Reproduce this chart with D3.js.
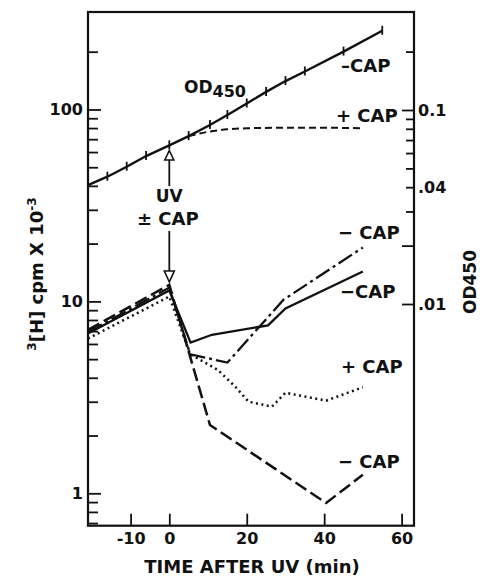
<!DOCTYPE html>
<html lang="en">
<head>
<meta charset="UTF-8">
<title>3H uptake and OD450 after UV</title>
<script src="https://cdn.jsdelivr.net/npm/d3@7/dist/d3.min.js"></script>
<style>
  body { margin: 0; background: #fff; }
  text { font-family: "DejaVu Sans", sans-serif; font-weight: bold; fill: #111; }
  .axis text { font-family: "DejaVu Sans", sans-serif; font-size: 16px; font-weight: bold; fill: #111; }
  .axis line { stroke: #111; stroke-width: 1.8; }
</style>
</head>
<body>
<svg width="480" height="578"></svg>
<script>
// OD450 of the -CAP culture (right axis), first point sits on the left frame
var odTime = [-21, -16, -11, -6, 0, 5, 10.5, 15, 20, 25, 30, 35, 45, 55];
var odMinusCap = [0.041, 0.0453, 0.051, 0.0579, 0.0657, 0.0734, 0.0837, 0.0942, 0.108, 0.124, 0.141, 0.158, 0.2, 0.256];
// OD450 with CAP added
var odPlusTime = [5, 10, 15, 20, 30, 40, 50];
var odPlusCap = [0.0734, 0.0772, 0.0795, 0.0805, 0.081, 0.081, 0.0805];

// 3H cpm x 10^-3 (left axis)
var solidTime = [-21, 0, 5.5, 11, 25.5, 30, 50];
var solidVal = [6.8, 11.4, 6.1, 6.7, 7.5, 9.2, 14.3];
var dashDotTime = [-21, 0, 5.4, 15, 29.5, 50];
var dashDotVal = [6.9, 11.8, 5.3, 4.8, 10.2, 19.1];
var dottedTime = [-21, 0, 5.4, 12.5, 17, 20.5, 26.5, 30, 40.5, 50];
var dottedVal = [6.4, 10.6, 5.3, 4.4, 3.6, 3.0, 2.83, 3.34, 3.04, 3.57];
var dashedTime = [-21, 0, 10.5, 40.5, 50];
var dashedVal = [7.1, 12.2, 2.27, 0.89, 1.25];

// ticks
var xTicks = [-10, 0, 20, 40, 60];
var leftLabelTicks = [1, 10, 100];
var leftMinorTicks = [0.7, 0.8, 0.9, 2, 3, 4, 5, 6, 7, 8, 9, 20, 30, 40, 50, 60, 70, 80, 90, 200];
var rightLabelTicks = [0.1, 0.04, 0.01];
var rightLabels = ['0.1', '.04', '.01'];
var rightShortTicks = [0.2, 0.09, 0.08, 0.07, 0.06, 0.05, 0.04, 0.03];
var rightLongTicks = [0.1, 0.02, 0.01];

var svg = d3.select('svg');
var pLeft = 88, pRight = 414, pTop = 12, pBottom = 525.7;

var x = d3.scaleLinear().domain([-21, 63.2]).range([pLeft, pRight]);
var yL = d3.scaleLog().domain([0.678, 322]).range([pBottom, pTop]);
var yR = d3.scaleLog().domain([0.00072, 0.32]).range([pBottom, pTop]);

function pairs(t, v) { return t.map(function (d, i) { return [d, v[i]]; }); }
function noDomain(g) { g.select('.domain').remove(); }

// frame
svg.append('rect')
    .attr('x', pLeft).attr('y', pTop)
    .attr('width', pRight - pLeft).attr('height', pBottom - pTop)
    .attr('fill', 'none').attr('stroke', '#111').attr('stroke-width', 2.2);

// left axis
svg.append('g').attr('class', 'axis').attr('transform', 'translate(' + pLeft + ',0)')
    .call(d3.axisLeft(yL).tickValues(leftMinorTicks).tickSizeInner(-10).tickSizeOuter(0).tickFormat(''))
    .call(noDomain);
svg.append('g').attr('class', 'axis').attr('transform', 'translate(' + pLeft + ',0)')
    .call(d3.axisLeft(yL).tickValues(leftLabelTicks).tickSizeInner(-13).tickSizeOuter(0).tickPadding(5)
        .tickFormat(function (d) { return String(d); }))
    .call(noDomain);

// right axis
svg.append('g').attr('class', 'axis').attr('transform', 'translate(' + pRight + ',0)')
    .call(d3.axisRight(yR).tickValues(rightShortTicks).tickSizeInner(-8).tickSizeOuter(0).tickFormat(''))
    .call(noDomain);
svg.append('g').attr('class', 'axis').attr('transform', 'translate(' + pRight + ',0)')
    .call(d3.axisRight(yR).tickValues(rightLongTicks).tickSizeInner(-12).tickSizeOuter(0).tickFormat(''))
    .call(noDomain);
svg.append('g').attr('class', 'axis').attr('transform', 'translate(' + pRight + ',0)')
    .call(d3.axisRight(yR).tickValues(rightLabelTicks).tickSize(0).tickPadding(4)
        .tickFormat(function (d, i) { return rightLabels[i]; }))
    .call(noDomain);

// bottom axis
svg.append('g').attr('class', 'axis').attr('transform', 'translate(0,' + pBottom + ')')
    .call(d3.axisBottom(x).tickValues(xTicks).tickSizeInner(-12).tickSizeOuter(0).tickPadding(7)
        .tickFormat(function (d) { return String(d); }))
    .call(noDomain);

// OD450 lines
var odLine = d3.line().x(function (d) { return x(d[0]); }).y(function (d) { return yR(d[1]); });
var odData = pairs(odTime, odMinusCap);
svg.append('path').datum(odData)
    .attr('d', odLine).attr('fill', 'none').attr('stroke', '#111').attr('stroke-width', 2.4);
svg.selectAll('.odtick').data(odData.slice(1)).enter().append('line')
    .attr('class', 'odtick')
    .attr('x1', function (d) { return x(d[0]); }).attr('x2', function (d) { return x(d[0]); })
    .attr('y1', function (d) { return yR(d[1]) - 5; }).attr('y2', function (d) { return yR(d[1]) + 4; })
    .attr('stroke', '#111').attr('stroke-width', 1.8);
svg.append('path').datum(pairs(odPlusTime, odPlusCap))
    .attr('d', odLine.curve(d3.curveMonotoneX)).attr('fill', 'none')
    .attr('stroke', '#111').attr('stroke-width', 2).attr('stroke-dasharray', '7,4');

// 3H lines
var cpmLine = d3.line().x(function (d) { return x(d[0]); }).y(function (d) { return yL(d[1]); });
var series = [
    { t: solidTime, v: solidVal, dash: null, w: 2.3 },
    { t: dashDotTime, v: dashDotVal, dash: '16,4,3,4', w: 2.3 },
    { t: dottedTime, v: dottedVal, dash: '2,3.5', w: 2.5 },
    { t: dashedTime, v: dashedVal, dash: '13,5', w: 2.5 }
];
series.forEach(function (s) {
    svg.append('path').datum(pairs(s.t, s.v))
        .attr('d', cpmLine).attr('fill', 'none').attr('stroke', '#111')
        .attr('stroke-width', s.w).attr('stroke-dasharray', s.dash);
});

// UV arrows
var ax = x(0);
svg.append('line').attr('x1', ax).attr('x2', ax).attr('y1', 186).attr('y2', 160)
    .attr('stroke', '#111').attr('stroke-width', 1.8);
svg.append('path').attr('d', 'M' + ax + ',150.5L' + (ax - 4.5) + ',160L' + (ax + 4.5) + ',160Z')
    .attr('fill', '#fff').attr('stroke', '#111').attr('stroke-width', 1.6);
svg.append('line').attr('x1', ax).attr('x2', ax).attr('y1', 231).attr('y2', 271)
    .attr('stroke', '#111').attr('stroke-width', 1.8);
svg.append('path').attr('d', 'M' + ax + ',282L' + (ax - 5) + ',271L' + (ax + 5) + ',271Z')
    .attr('fill', '#fff').attr('stroke', '#111').attr('stroke-width', 1.6);

// annotations
var od = svg.append('text').attr('x', 184).attr('y', 93).style('font-size', '17px');
od.append('tspan').text('OD');
od.append('tspan').attr('dy', 4).style('font-size', '16px').text('450');

svg.append('text').attr('x', ax).attr('y', 202).attr('text-anchor', 'middle').style('font-size', '17px').text('UV');
svg.append('text').attr('x', 137).attr('y', 225).style('font-size', '18px').text('± CAP');

var notes = [
    { x: 341, y: 71.7, s: '–CAP' },
    { x: 336, y: 121.7, s: '+ CAP' },
    { x: 338, y: 239.3, s: '− CAP' },
    { x: 340, y: 297.7, s: '−CAP' },
    { x: 341, y: 373.3, s: '+ CAP' },
    { x: 338, y: 468.3, s: '− CAP' }
];
svg.selectAll('.note').data(notes).enter().append('text')
    .attr('class', 'note').attr('x', function (d) { return d.x; }).attr('y', function (d) { return d.y; })
    .style('font-size', '18px').text(function (d) { return d.s; });

// axis titles
svg.append('text').attr('x', 252).attr('y', 573).attr('text-anchor', 'middle')
    .style('font-size', '18px').text('TIME AFTER UV (min)');

var yt = svg.append('text').attr('transform', 'translate(43,274) rotate(-90)')
    .attr('text-anchor', 'middle').style('font-size', '18px');
yt.append('tspan').attr('dy', -7).style('font-size', '12px').text('3');
yt.append('tspan').attr('dy', 7).text('[H] cpm X 10');
yt.append('tspan').attr('dy', -7).style('font-size', '12px').text('-3');

svg.append('text').attr('transform', 'translate(476,282) rotate(-90)')
    .attr('text-anchor', 'middle').style('font-size', '17px').text('OD450');
</script>
</body>
</html>
